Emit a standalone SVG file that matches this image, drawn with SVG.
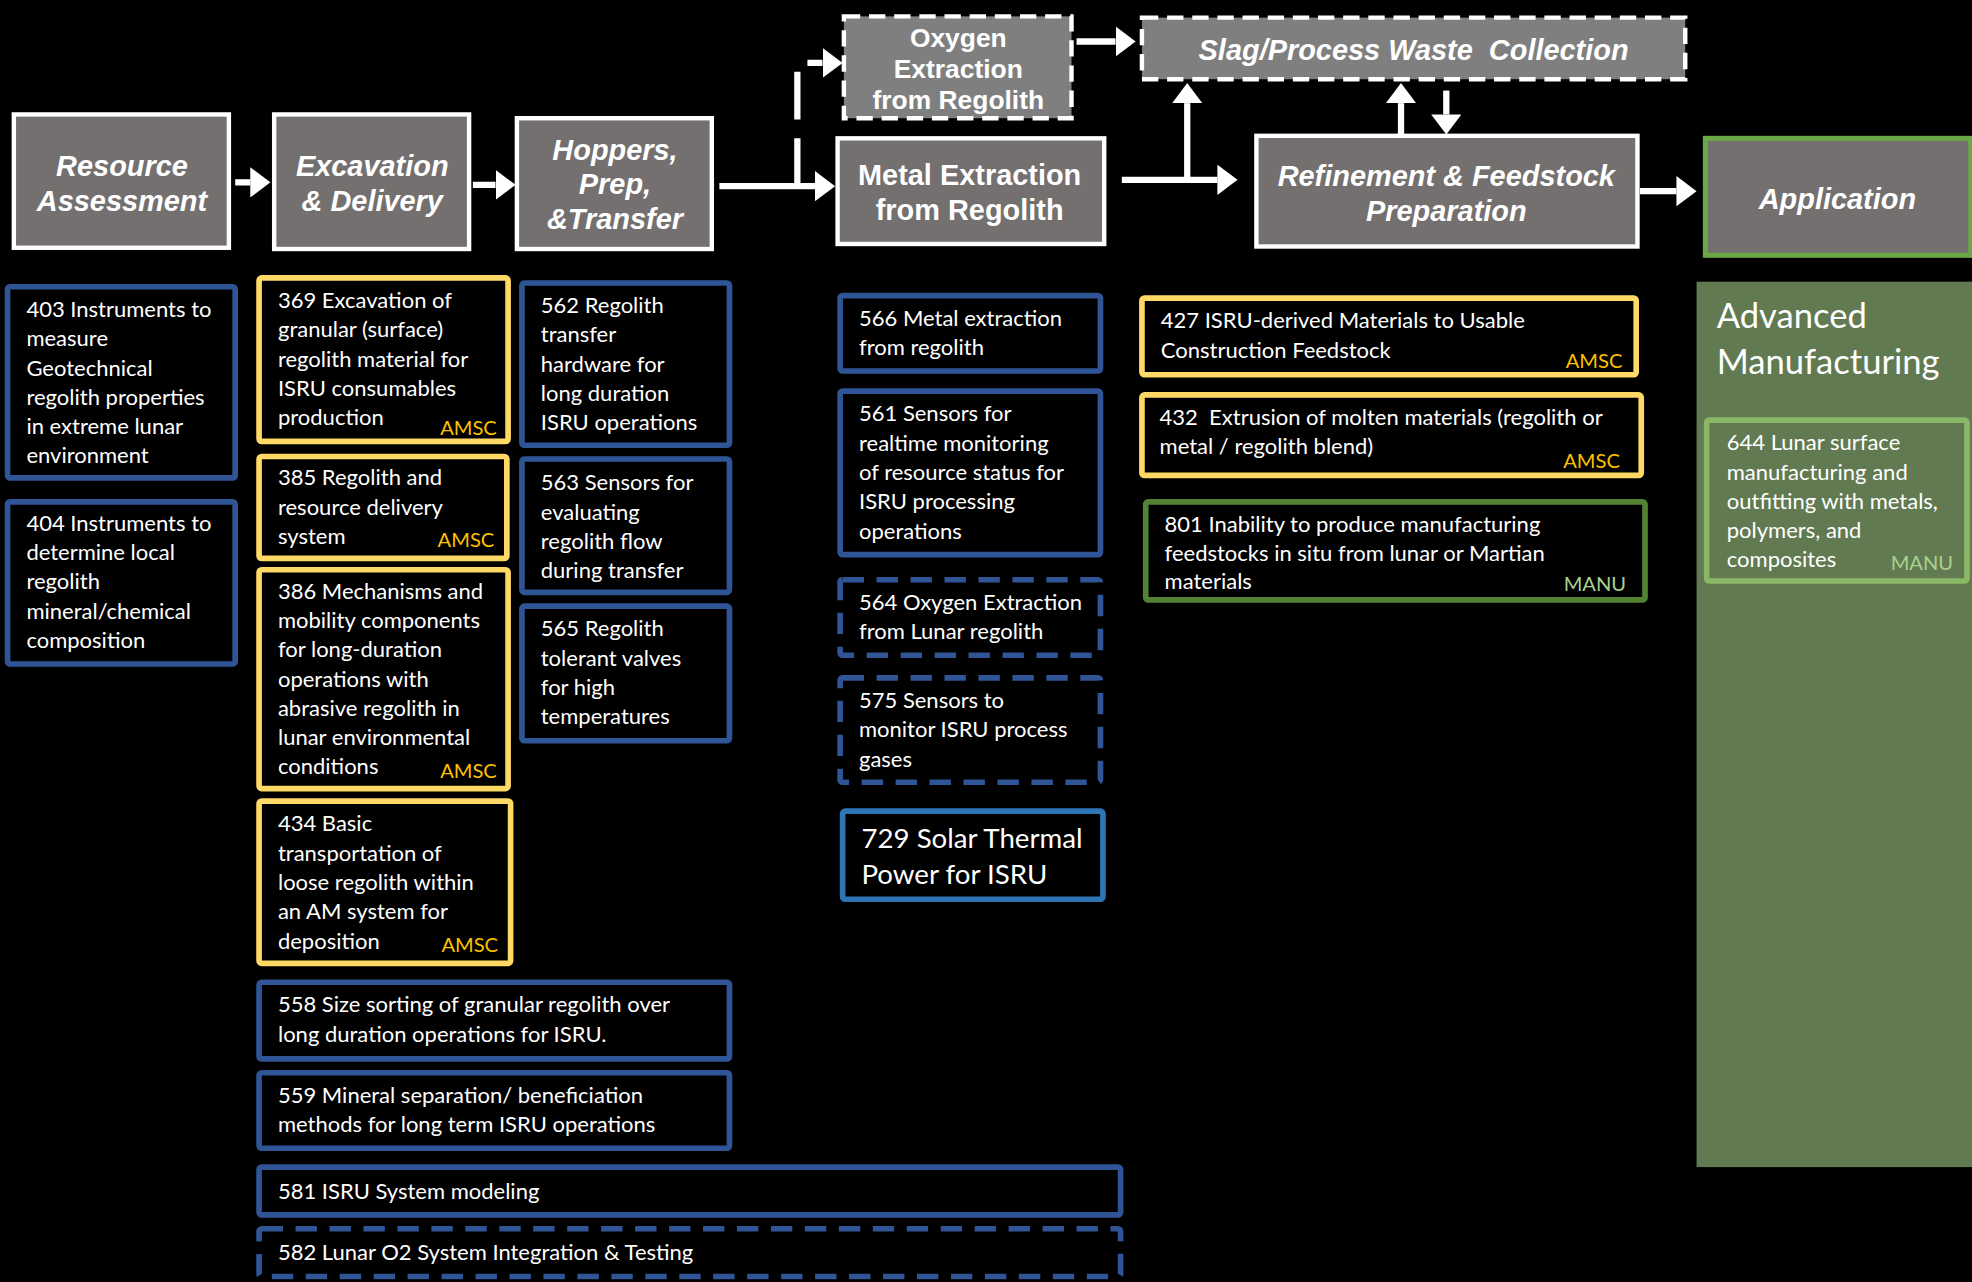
<svg xmlns="http://www.w3.org/2000/svg" width="1972" height="1282" viewBox="0 0 1972 1282">
<defs>
<style>
.hdr{fill:#73706F;stroke:#fff;stroke-width:3.5}
.hdrd{fill:#7F7F7F;stroke:#fff;stroke-width:3.5;stroke-dasharray:13 7}
.ht{font-family:"Liberation Sans",Arial,sans-serif;font-weight:bold;font-style:italic;font-size:23px;fill:#fff;text-anchor:middle}
.hn{font-family:"Liberation Sans",Arial,sans-serif;font-weight:bold;font-size:23px;fill:#fff;text-anchor:middle}
.bl{fill:#000;stroke:#2F5597;stroke-width:4.5}
.bld{fill:#000;stroke:#2F5597;stroke-width:4.5;stroke-dasharray:17 10}
.yl{fill:#000;stroke:#FFD966;stroke-width:4.5}
.gr{fill:#000;stroke:#548235;stroke-width:4.5}
.t{font-family:Lato,"Open Sans",sans-serif;font-size:17.5px;fill:#fff}
.amsc{font-family:Lato,"Open Sans",sans-serif;font-size:16px;fill:#FFC000;text-anchor:end}
.manu{font-family:Lato,"Open Sans",sans-serif;font-size:16px;fill:#A9D18E;text-anchor:end}
.conn{stroke:#fff;stroke-width:5;fill:none}
</style>
<marker id="ah" markerUnits="userSpaceOnUse" markerWidth="17" markerHeight="24" refX="0" refY="12" orient="auto" viewBox="0 0 17 24">
<path d="M0,0 L16,12 L0,24 z" fill="#fff"/>
</marker>
</defs>
<rect x="0" y="0" width="1972" height="1282" fill="#000"/>
<g transform="scale(1.25765)">
<!-- connectors -->
<g id="connectors">
<path class="conn" d="M187,145 H199" marker-end="url(#ah)"/>
<path class="conn" d="M376,147 H394" marker-end="url(#ah)"/>
<path class="conn" d="M572,148 H648" marker-end="url(#ah)"/>
<path class="conn" d="M634,148 V50 H654" stroke-dasharray="38 15" marker-end="url(#ah)"/>
<path class="conn" d="M892,143 H968" marker-end="url(#ah)"/>
<path class="conn" d="M944,143 V82" marker-end="url(#ah)"/>
<path class="conn" d="M856,33 H887" marker-end="url(#ah)"/>
<path class="conn" d="M1114,107 V82" marker-end="url(#ah)"/>
<path class="conn" d="M1150,72 V91" marker-end="url(#ah)"/>
<path class="conn" d="M1304,152 H1333" marker-end="url(#ah)"/>
</g>
<!-- header nodes -->
<g id="resource-assessment">
<rect class="hdr" x="11" y="91" width="171" height="106"/>
<text class="ht" x="97" y="140">Resource<tspan x="97" dy="28">Assessment</tspan></text>
</g>
<g id="excavation-delivery">
<rect class="hdr" x="218" y="91" width="155" height="107"/>
<text class="ht" x="296" y="140">Excavation<tspan x="296" dy="28">&amp; Delivery</tspan></text>
</g>
<g id="hoppers">
<rect class="hdr" x="411" y="94" width="155" height="104"/>
<text class="ht" x="489" y="127">Hoppers,<tspan x="489" dy="27">Prep,</tspan><tspan x="489" dy="28">&amp;Transfer</tspan></text>
</g>
<g id="oxygen-extraction">
<rect class="hdrd" x="671" y="13" width="181" height="81"/>
<text class="hn" style="font-size:21px" x="762" y="37">Oxygen<tspan x="762" dy="25">Extraction</tspan><tspan x="762" dy="25">from Regolith</tspan></text>
</g>
<g id="metal-extraction">
<rect class="hdr" x="666" y="110" width="212" height="84"/>
<text class="hn" x="771" y="147">Metal Extraction<tspan x="771" dy="28">from Regolith</tspan></text>
</g>
<g id="slag-collection">
<rect class="hdrd" x="908" y="14" width="432" height="49"/>
<text class="ht" x="1124" y="48" xml:space="preserve">Slag/Process Waste  Collection</text>
</g>
<g id="refinement">
<rect class="hdr" x="999" y="108" width="303" height="88"/>
<text class="ht" x="1150" y="148">Refinement &amp; Feedstock<tspan x="1150" dy="28">Preparation</tspan></text>
</g>
<g id="application">
<rect x="1356" y="110" width="211" height="93" fill="#73706F" stroke="#6AA946" stroke-width="4"/>
<text class="ht" x="1461" y="166">Application</text>
</g>
<!-- column 1 -->
<g id="n403">
<rect class="bl" x="6" y="228" width="181" height="152" rx="2"/>
<text class="t" x="21" y="252">403 Instruments to<tspan x="21" dy="23.3">measure</tspan><tspan x="21" dy="23.3">Geotechnical</tspan><tspan x="21" dy="23.3">regolith properties</tspan><tspan x="21" dy="23.3">in extreme lunar</tspan><tspan x="21" dy="23.3">environment</tspan></text>
</g>
<g id="n404">
<rect class="bl" x="6" y="399" width="181" height="129" rx="2"/>
<text class="t" x="21" y="422">404 Instruments to<tspan x="21" dy="23.3">determine local</tspan><tspan x="21" dy="23.3">regolith</tspan><tspan x="21" dy="23.3">mineral/chemical</tspan><tspan x="21" dy="23.3">composition</tspan></text>
</g>
<!-- column 2 -->
<g id="n369">
<rect class="yl" x="206" y="221" width="198" height="130" rx="2"/>
<text class="t" x="221" y="245">369 Excavation of<tspan x="221" dy="23.3">granular (surface)</tspan><tspan x="221" dy="23.3">regolith material for</tspan><tspan x="221" dy="23.3">ISRU consumables</tspan><tspan x="221" dy="23.3">production</tspan></text>
<text class="amsc" x="395" y="346">AMSC</text>
</g>
<g id="n385">
<rect class="yl" x="206" y="363" width="197" height="81" rx="2"/>
<text class="t" x="221" y="386">385 Regolith and<tspan x="221" dy="23.3">resource delivery</tspan><tspan x="221" dy="23.3">system</tspan></text>
<text class="amsc" x="393" y="435">AMSC</text>
</g>
<g id="n386">
<rect class="yl" x="206" y="453" width="198" height="174" rx="2"/>
<text class="t" x="221" y="476">386 Mechanisms and<tspan x="221" dy="23.3">mobility components</tspan><tspan x="221" dy="23.3">for long-duration</tspan><tspan x="221" dy="23.3">operations with</tspan><tspan x="221" dy="23.3">abrasive regolith in</tspan><tspan x="221" dy="23.3">lunar environmental</tspan><tspan x="221" dy="23.3">conditions</tspan></text>
<text class="amsc" x="395" y="619">AMSC</text>
</g>
<g id="n434">
<rect class="yl" x="206" y="637" width="200" height="129" rx="2"/>
<text class="t" x="221" y="661">434 Basic<tspan x="221" dy="23.3">transportation of</tspan><tspan x="221" dy="23.3">loose regolith within</tspan><tspan x="221" dy="23.3">an AM system for</tspan><tspan x="221" dy="23.3">deposition</tspan></text>
<text class="amsc" x="396" y="757">AMSC</text>
</g>
<!-- column 3 -->
<g id="n562">
<rect class="bl" x="415" y="225" width="165" height="129" rx="2"/>
<text class="t" x="430" y="249">562 Regolith<tspan x="430" dy="23.3">transfer</tspan><tspan x="430" dy="23.3">hardware for</tspan><tspan x="430" dy="23.3">long duration</tspan><tspan x="430" dy="23.3">ISRU operations</tspan></text>
</g>
<g id="n563">
<rect class="bl" x="415" y="365" width="165" height="106" rx="2"/>
<text class="t" x="430" y="390">563 Sensors for<tspan x="430" dy="23.3">evaluating</tspan><tspan x="430" dy="23.3">regolith flow</tspan><tspan x="430" dy="23.3">during transfer</tspan></text>
</g>
<g id="n565">
<rect class="bl" x="415" y="482" width="165" height="107" rx="2"/>
<text class="t" x="430" y="506">565 Regolith<tspan x="430" dy="23.3">tolerant valves</tspan><tspan x="430" dy="23.3">for high</tspan><tspan x="430" dy="23.3">temperatures</tspan></text>
</g>
<!-- wide boxes -->
<g id="n558">
<rect class="bl" x="206" y="781" width="374" height="61" rx="2"/>
<text class="t" x="221" y="805">558 Size sorting of granular regolith over<tspan x="221" dy="23.3">long duration operations for ISRU.</tspan></text>
</g>
<g id="n559">
<rect class="bl" x="206" y="853" width="374" height="60" rx="2"/>
<text class="t" x="221" y="877">559 Mineral separation/ beneficiation<tspan x="221" dy="23.3">methods for long term ISRU operations</tspan></text>
</g>
<g id="n581">
<rect class="bl" x="206" y="928" width="685" height="38" rx="2"/>
<text class="t" x="221" y="953">581 ISRU System modeling</text>
</g>
<g id="n582">
<rect class="bld" x="206" y="977" width="685" height="38" rx="2"/>
<text class="t" x="221" y="1002">582 Lunar O2 System Integration &amp; Testing</text>
</g>
<!-- column 4 -->
<g id="n566">
<rect class="bl" x="668" y="235" width="207" height="60" rx="2"/>
<text class="t" x="683" y="259">566 Metal extraction<tspan x="683" dy="23.3">from regolith</tspan></text>
</g>
<g id="n561">
<rect class="bl" x="668" y="311" width="207" height="130" rx="2"/>
<text class="t" x="683" y="335">561 Sensors for<tspan x="683" dy="23.3">realtime monitoring</tspan><tspan x="683" dy="23.3">of resource status for</tspan><tspan x="683" dy="23.3">ISRU processing</tspan><tspan x="683" dy="23.3">operations</tspan></text>
</g>
<g id="n564">
<rect class="bld" x="668" y="461" width="207" height="60" rx="2"/>
<text class="t" x="683" y="485">564 Oxygen Extraction<tspan x="683" dy="23.3">from Lunar regolith</tspan></text>
</g>
<g id="n575">
<rect class="bld" x="668" y="539" width="207" height="83" rx="2"/>
<text class="t" x="683" y="563">575 Sensors to<tspan x="683" dy="23.3">monitor ISRU process</tspan><tspan x="683" dy="23.3">gases</tspan></text>
</g>
<g id="n729">
<rect x="670" y="645" width="207" height="70" rx="2" fill="#000" stroke="#2E75B6" stroke-width="4.5"/>
<text class="t" style="font-size:22px" x="685" y="674">729 Solar Thermal<tspan x="685" dy="29">Power for ISRU</tspan></text>
</g>
<!-- column 5 -->
<g id="n427">
<rect class="yl" x="908" y="237" width="393" height="61" rx="2"/>
<text class="t" x="923" y="261">427 ISRU-derived Materials to Usable<tspan x="923" dy="23.3">Construction Feedstock</tspan></text>
<text class="amsc" x="1290" y="293">AMSC</text>
</g>
<g id="n432">
<rect class="yl" x="908" y="314" width="397" height="64" rx="2"/>
<text class="t" x="922" y="338" xml:space="preserve">432  Extrusion of molten materials (regolith or<tspan x="922" dy="23.3">metal / regolith blend)</tspan></text>
<text class="amsc" x="1288" y="372">AMSC</text>
</g>
<g id="n801">
<rect class="gr" x="911" y="399" width="397" height="78" rx="2"/>
<text class="t" x="926" y="423">801 Inability to produce manufacturing<tspan x="926" dy="22.7">feedstocks in situ from lunar or Martian</tspan><tspan x="926" dy="22.7">materials</tspan></text>
<text class="manu" x="1293" y="470">MANU</text>
</g>
<!-- advanced manufacturing panel -->
<g id="advanced-manufacturing">
<rect x="1349" y="224" width="223" height="704" fill="#627A51"/>
<text x="1365" y="261" style="font-family:Lato,'Open Sans',sans-serif;font-size:27.5px;fill:#fff">Advanced<tspan x="1365" dy="36">Manufacturing</tspan></text>
</g>
<g id="n644">
<rect x="1357" y="334" width="207" height="128" rx="2" fill="#627A51" stroke="#8AB866" stroke-width="4.5"/>
<text class="t" x="1373" y="358">644 Lunar surface<tspan x="1373" dy="23.3">manufacturing and</tspan><tspan x="1373" dy="23.3">outfitting with metals,</tspan><tspan x="1373" dy="23.3">polymers, and</tspan><tspan x="1373" dy="23.3">composites</tspan></text>
<text class="manu" x="1553" y="453">MANU</text>
</g>
</g>
</svg>
